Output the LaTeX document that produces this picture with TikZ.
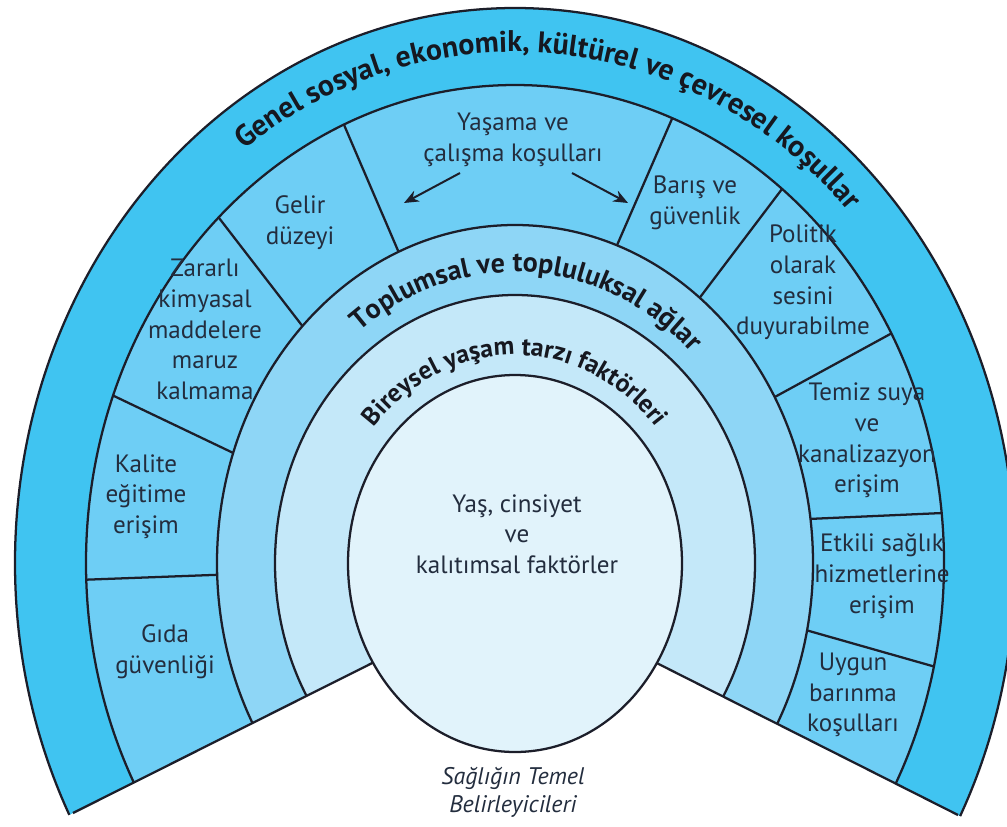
\documentclass[tikz,border=0pt]{standalone}
\usepackage{fontspec}
\setmainfont{PT Sans}
\usetikzlibrary{decorations.text,arrows.meta}
\definecolor{bandc}{RGB}{64,196,241}
\definecolor{cellc}{RGB}{110,206,245}
\definecolor{commc}{RGB}{142,214,246}
\definecolor{indvc}{RGB}{196,232,249}
\definecolor{corec}{RGB}{225,243,251}
\definecolor{linec}{RGB}{28,30,42}
\definecolor{txtc}{RGB}{35,45,62}
\definecolor{boldc}{RGB}{22,24,32}
\tikzset{
  ring/.style={draw=linec, line width=1.7pt},
  divider/.style={draw=linec, line width=1.7pt},
  celltext/.style={text=txtc, align=center, font=\fontsize{18.8}{23}\selectfont, inner sep=0pt},
  captext/.style={text=txtc, align=center, font=\itshape\fontsize{18}{21}\selectfont, inner sep=0pt},
  arrowline/.style={draw=linec, line width=1.5pt, -{Stealth[length=11pt,width=9pt]}},
}
\begin{document}
\begin{tikzpicture}[x=0.75pt,y=0.75pt,line join=round]
\clip (0,0) rectangle (1007,-826);
\coordinate (C) at (515,-563);
\begin{scope}
\clip (515,-591.5) -- (-585,-1142.8) -- (-700,400) -- (1700,400) -- (1615,-1146.5) -- cycle;
\fill[bandc] (C) ellipse[x radius=500,y radius=555];
\fill[cellc] (C) ellipse[x radius=429,y radius=478];
\fill[commc] (C) ellipse[x radius=298,y radius=338];
\fill[indvc] (C) ellipse[x radius=240,y radius=268];
\draw[ring] (C) ellipse[x radius=500,y radius=555];
\draw[ring] (C) ellipse[x radius=429,y radius=478];
\draw[ring] (C) ellipse[x radius=298,y radius=338];
\draw[ring] (C) ellipse[x radius=240,y radius=268];
\end{scope}
\foreach \a/\b in {182/182,159.5/161,133.7/135.5,113.5/113,68.5/70,51.5/51.7,28.7/29.4,6/7.5,-12.5/-11.5}
  \draw[divider] ([shift={(C)}]\a:429 and 478) -- ([shift={(C)}]\b:298 and 338);
\coordinate (BL) at (73,-813);
\coordinate (BR) at (958,-815);
\coordinate (BLi) at (390,-654.1);
\coordinate (BRi) at (640,-654.6);
\draw[ring] (BL) -- (BLi);
\draw[ring] (BR) -- (BRi);
\draw[ring, fill=corec] (515,-563.5) ellipse[x radius=167,y radius=188.5];
% curved titles
\path[decorate, decoration={text along path, text align=center,
  text={|\bfseries\fontsize{22.4}{26}\selectfont\color{boldc}|Genel sosyal, ekonomik, kültürel ve çevresel koşullar}}]
  ([shift={(C)}]150:460 and 511) arc[start angle=150, end angle=20, x radius=460, y radius=511];
\path[decorate, decoration={text along path, text align=center,
  text={|\bfseries\fontsize{21}{25}\selectfont\color{boldc}|Toplumsal ve topluluksal ağlar}}]
  ([shift={(C)}]147:256 and 291) arc[start angle=147, end angle=27, x radius=256, y radius=291];
\path[decorate, decoration={text along path, text align=center,
  text={|\bfseries\fontsize{19.3}{23}\selectfont\color{boldc}|Bireysel yaşam tarzı faktörleri}}]
  ([shift={(C)}]160:186 and 208) arc[start angle=160, end angle=20, x radius=186, y radius=208];
% cell texts
\node[celltext] (yasama) at (513,-140) {Yaşama ve\\çalışma koşulları};
\node[celltext] (gelir) at (300,-222.5) {Gelir\\düzeyi};
\node[celltext] (zararli) at (205,-329.5) {Zararlı\\kimyasal\\maddelere\\maruz\\kalmama};
\node[celltext] (kalite) at (146,-496.5) {Kalite\\eğitime\\erişim};
\node[celltext] (gida) at (165,-652) {Gıda\\güvenliği};
\node[celltext] (baris) at (695,-203) {Barış ve\\güvenlik};
\node[celltext] (politik) at (803,-282.5) {Politik\\olarak\\sesini\\duyurabilme};
\node[celltext] (temiz) at (867,-440.5) {Temiz suya\\ve\\kanalizazyon\\erişim};
\node[celltext] (etkili) at (882,-576) {Etkili sağlık\\hizmetlerine\\erişim};
\node[celltext] (uygun) at (853,-695) {Uygun\\barınma\\koşulları};
\node[celltext] (core) at (517,-534) {Yaş, cinsiyet\\ve\\kalıtımsal faktörler};
\node[captext] (caption) at (513,-792) {Sağlığın Temel\\Belirleyicileri};
% arrows
\coordinate (aLs) at (460,-173); \coordinate (aLe) at (404,-203);
\coordinate (aRs) at (572,-173); \coordinate (aRe) at (628,-203);
\draw[arrowline] (aLs) -- (aLe);
\draw[arrowline] (aRs) -- (aRe);
\end{tikzpicture}
\end{document}
